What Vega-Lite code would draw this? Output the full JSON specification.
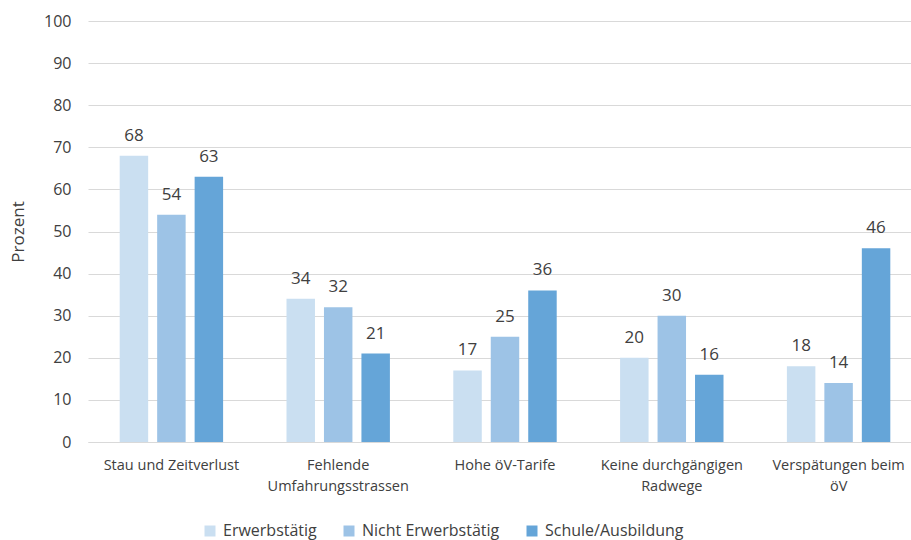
{
  "$schema": "https://vega.github.io/schema/vega-lite/v6.json",
  "autosize": {"type": "none"},
  "padding": {"left": 88, "top": 21, "right": 0, "bottom": 98},
  "width": 834,
  "height": 421,
  "background": "white",
  "config": {
    "font": "Open Sans",
    "view": {"stroke": null}
  },
  "data": {
    "values": [
      {"kat": "Stau und Zeitverlust", "gruppe": "Erwerbstätig", "wert": 68},
      {"kat": "Stau und Zeitverlust", "gruppe": "Nicht Erwerbstätig", "wert": 54},
      {"kat": "Stau und Zeitverlust", "gruppe": "Schule/Ausbildung", "wert": 63},
      {"kat": "Fehlende|Umfahrungsstrassen", "gruppe": "Erwerbstätig", "wert": 34},
      {"kat": "Fehlende|Umfahrungsstrassen", "gruppe": "Nicht Erwerbstätig", "wert": 32},
      {"kat": "Fehlende|Umfahrungsstrassen", "gruppe": "Schule/Ausbildung", "wert": 21},
      {"kat": "Hohe öV-Tarife", "gruppe": "Erwerbstätig", "wert": 17},
      {"kat": "Hohe öV-Tarife", "gruppe": "Nicht Erwerbstätig", "wert": 25},
      {"kat": "Hohe öV-Tarife", "gruppe": "Schule/Ausbildung", "wert": 36},
      {"kat": "Keine durchgängigen|Radwege", "gruppe": "Erwerbstätig", "wert": 20},
      {"kat": "Keine durchgängigen|Radwege", "gruppe": "Nicht Erwerbstätig", "wert": 30},
      {"kat": "Keine durchgängigen|Radwege", "gruppe": "Schule/Ausbildung", "wert": 16},
      {"kat": "Verspätungen beim|öV", "gruppe": "Erwerbstätig", "wert": 18},
      {"kat": "Verspätungen beim|öV", "gruppe": "Nicht Erwerbstätig", "wert": 14},
      {"kat": "Verspätungen beim|öV", "gruppe": "Schule/Ausbildung", "wert": 46}
    ]
  },
  "encoding": {
    "x": {
      "field": "kat", "type": "nominal", "sort": null,
      "scale": {"paddingInner": 0.38, "paddingOuter": 0.19},
      "axis": {
        "title": null, "labelAngle": 0, "ticks": false,
        "domainColor": "#d9d9d9", "domainWidth": 1,
        "labelExpr": "split(datum.label, '|')",
        "labelFontSize": 14.5, "labelColor": "#404040",
        "labelPadding": 16, "labelLineHeight": 21
      }
    },
    "xOffset": {"field": "gruppe", "type": "nominal", "sort": ["Erwerbstätig", "Nicht Erwerbstätig", "Schule/Ausbildung"], "scale": {"paddingInner": 0.24, "paddingOuter": 0}},
    "y": {
      "field": "wert", "type": "quantitative",
      "scale": {"domain": [0, 100]},
      "axis": {
        "title": "Prozent", "titleFontSize": 17, "titleFontWeight": "normal", "titleColor": "#404040",
        "titlePadding": 16,
        "values": [0,10,20,30,40,50,60,70,80,90,100],
        "labelOverlap": false,
        "domain": false, "ticks": false,
        "gridColor": "#d9d9d9", "gridWidth": 1,
        "labelFontSize": 16, "labelColor": "#404040", "labelPadding": 17
      }
    }
  },
  "layer": [
    {
      "mark": {"type": "bar"},
      "encoding": {
        "color": {
          "field": "gruppe", "type": "nominal",
          "scale": {"domain": ["Erwerbstätig", "Nicht Erwerbstätig", "Schule/Ausbildung"], "range": ["#cadff1", "#9dc3e6", "#65a5d8"]},
          "legend": {
            "title": null, "orient": "none", "direction": "horizontal",
            "legendX": 114, "legendY": 502,
            "symbolType": "square", "symbolSize": 121, "symbolStrokeWidth": 0,
            "labelFontSize": 16, "labelColor": "#404040", "columnPadding": 24, "labelOffset": 5
          }
        }
      }
    },
    {
      "mark": {"type": "text", "baseline": "bottom", "dy": -11, "fontSize": 17, "color": "#404040"},
      "encoding": {"text": {"field": "wert", "type": "quantitative"}}
    }
  ]
}
